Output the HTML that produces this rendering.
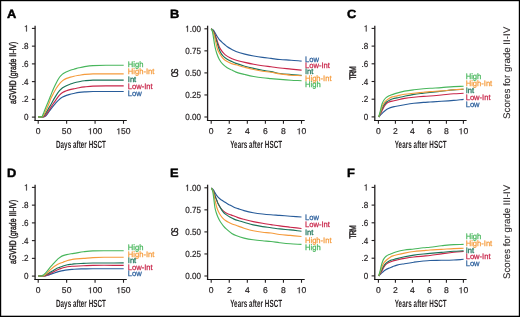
<!DOCTYPE html>
<html><head><meta charset="utf-8"><title>Figure</title>
<style>html,body{margin:0;padding:0;background:#fff;}svg{display:block;will-change:transform;}text{font-family:"Liberation Sans", sans-serif;text-rendering:geometricPrecision;}</style>
</head><body>
<svg width="520" height="317" viewBox="0 0 520 317" fill="#231f20">
<defs><filter id="soft" filterUnits="userSpaceOnUse" x="0" y="0" width="520" height="317" color-interpolation-filters="sRGB"><feGaussianBlur stdDeviation="0.35"/></filter></defs>
<rect width="520" height="317" fill="#fff"/>
<g filter="url(#soft)">

<text x="7" y="17.8" font-size="12" fill="#000" font-weight="bold" stroke="#000" stroke-width="0.45" transform="translate(7,0) scale(1.07,1) translate(-7,0)">A</text>
<path d="M35.1,25.7V121" fill="none" stroke="#231f20" stroke-width="1.3"/>
<path d="M34.45,120.45H126.8" fill="none" stroke="#141414" stroke-width="1.1"/>
<path d="M31.9,117.1H35.1" stroke="#231f20" stroke-width="1.1"/>
<text x="28.6" y="120.1" font-size="8.8" text-anchor="end" textLength="4.5" lengthAdjust="spacingAndGlyphs" stroke="#231f20" stroke-width="0.2">0</text>
<path d="M31.9,99.36H35.1" stroke="#231f20" stroke-width="1.1"/>
<text x="28.6" y="102.36" font-size="8.8" text-anchor="end" textLength="6.75" lengthAdjust="spacingAndGlyphs" stroke="#231f20" stroke-width="0.2">.2</text>
<path d="M31.9,81.62H35.1" stroke="#231f20" stroke-width="1.1"/>
<text x="28.6" y="84.62" font-size="8.8" text-anchor="end" textLength="6.75" lengthAdjust="spacingAndGlyphs" stroke="#231f20" stroke-width="0.2">.4</text>
<path d="M31.9,63.88H35.1" stroke="#231f20" stroke-width="1.1"/>
<text x="28.6" y="66.88" font-size="8.8" text-anchor="end" textLength="6.75" lengthAdjust="spacingAndGlyphs" stroke="#231f20" stroke-width="0.2">.6</text>
<path d="M31.9,46.14H35.1" stroke="#231f20" stroke-width="1.1"/>
<text x="28.6" y="49.14" font-size="8.8" text-anchor="end" textLength="6.75" lengthAdjust="spacingAndGlyphs" stroke="#231f20" stroke-width="0.2">.8</text>
<path d="M31.9,28.4H35.1" stroke="#231f20" stroke-width="1.1"/>
<text x="28.6" y="31.4" font-size="8.8" text-anchor="end" textLength="4.5" lengthAdjust="spacingAndGlyphs" stroke="#231f20" stroke-width="0.2"> </text>
<path d="M26.84,31.4 L26.84,25.35 L26.3,25.35 L26.08,25.72 L25.76,26.03 L25.31,26.25 L24.87,26.38 L24.87,27.04 L25.39,26.87 L25.8,26.65 L26.13,26.38 L26.13,31.4Z" stroke="#231f20" stroke-width="0.2"/>
<path d="M38.2,120.45V123.75" stroke="#231f20" stroke-width="1.1"/>
<text x="38.2" y="134.2" font-size="8.5" text-anchor="middle" textLength="4.77" lengthAdjust="spacingAndGlyphs" stroke="#231f20" stroke-width="0.2">0</text>
<path d="M66.64,120.45V123.75" stroke="#231f20" stroke-width="1.1"/>
<text x="66.64" y="134.2" font-size="8.5" text-anchor="middle" textLength="9.55" lengthAdjust="spacingAndGlyphs" stroke="#231f20" stroke-width="0.2">50</text>
<path d="M95.07,120.45V123.75" stroke="#231f20" stroke-width="1.1"/>
<text x="95.07" y="134.2" font-size="8.5" text-anchor="middle" textLength="14.32" lengthAdjust="spacingAndGlyphs" stroke="#231f20" stroke-width="0.2"> 00</text>
<path d="M90.82,134.2 L90.82,128.35 L90.24,128.35 L90.01,128.72 L89.67,129.01 L89.2,129.23 L88.72,129.35 L88.72,129.99 L89.28,129.82 L89.71,129.61 L90.06,129.35 L90.06,134.2Z" stroke="#231f20" stroke-width="0.2"/>
<path d="M123.5,120.45V123.75" stroke="#231f20" stroke-width="1.1"/>
<text x="123.5" y="134.2" font-size="8.5" text-anchor="middle" textLength="14.32" lengthAdjust="spacingAndGlyphs" stroke="#231f20" stroke-width="0.2"> 50</text>
<path d="M119.25,134.2 L119.25,128.35 L118.68,128.35 L118.45,128.72 L118.1,129.01 L117.63,129.23 L117.16,129.35 L117.16,129.99 L117.72,129.82 L118.15,129.61 L118.5,129.35 L118.5,134.2Z" stroke="#231f20" stroke-width="0.2"/>
<text transform="translate(80.95,147.5) scale(0.6,1)" font-size="10.5" text-anchor="middle" font-weight="bold" textLength="83.33" lengthAdjust="spacing">Days after HSCT</text>
<text transform="translate(15.6,72.9) rotate(-90) scale(0.72,1)" font-size="9.6" text-anchor="middle" textLength="86.53" lengthAdjust="spacing" stroke="#231f20" stroke-width="0.45">aGVHD (grade II-IV)</text>
<text x="170" y="17.8" font-size="12" fill="#000" font-weight="bold" stroke="#000" stroke-width="0.45" transform="translate(170,0) scale(1.07,1) translate(-170,0)">B</text>
<path d="M207.6,25.7V121" fill="none" stroke="#231f20" stroke-width="1.3"/>
<path d="M206.95,120.45H304.7" fill="none" stroke="#141414" stroke-width="1.1"/>
<path d="M204.4,117H207.6" stroke="#231f20" stroke-width="1.1"/>
<text x="201" y="120" font-size="8.8" text-anchor="end" textLength="15.76" lengthAdjust="spacingAndGlyphs" stroke="#231f20" stroke-width="0.2">0.00</text>
<path d="M204.4,94.95H207.6" stroke="#231f20" stroke-width="1.1"/>
<text x="201" y="97.95" font-size="8.8" text-anchor="end" textLength="15.76" lengthAdjust="spacingAndGlyphs" stroke="#231f20" stroke-width="0.2">0.25</text>
<path d="M204.4,72.9H207.6" stroke="#231f20" stroke-width="1.1"/>
<text x="201" y="75.9" font-size="8.8" text-anchor="end" textLength="15.76" lengthAdjust="spacingAndGlyphs" stroke="#231f20" stroke-width="0.2">0.50</text>
<path d="M204.4,50.85H207.6" stroke="#231f20" stroke-width="1.1"/>
<text x="201" y="53.85" font-size="8.8" text-anchor="end" textLength="15.76" lengthAdjust="spacingAndGlyphs" stroke="#231f20" stroke-width="0.2">0.75</text>
<path d="M204.4,28.8H207.6" stroke="#231f20" stroke-width="1.1"/>
<text x="201" y="31.8" font-size="8.8" text-anchor="end" textLength="15.76" lengthAdjust="spacingAndGlyphs" stroke="#231f20" stroke-width="0.2"> .00</text>
<path d="M187.99,31.8 L187.99,25.75 L187.45,25.75 L187.23,26.12 L186.9,26.43 L186.46,26.65 L186.01,26.78 L186.01,27.44 L186.54,27.27 L186.94,27.05 L187.28,26.78 L187.28,31.8Z" stroke="#231f20" stroke-width="0.2"/>
<path d="M211.2,120.45V123.75" stroke="#231f20" stroke-width="1.1"/>
<text x="211.2" y="134.2" font-size="8.5" text-anchor="middle" textLength="4.77" lengthAdjust="spacingAndGlyphs" stroke="#231f20" stroke-width="0.2">0</text>
<path d="M229.26,120.45V123.75" stroke="#231f20" stroke-width="1.1"/>
<text x="229.26" y="134.2" font-size="8.5" text-anchor="middle" textLength="4.77" lengthAdjust="spacingAndGlyphs" stroke="#231f20" stroke-width="0.2">2</text>
<path d="M247.32,120.45V123.75" stroke="#231f20" stroke-width="1.1"/>
<text x="247.32" y="134.2" font-size="8.5" text-anchor="middle" textLength="4.77" lengthAdjust="spacingAndGlyphs" stroke="#231f20" stroke-width="0.2">4</text>
<path d="M265.38,120.45V123.75" stroke="#231f20" stroke-width="1.1"/>
<text x="265.38" y="134.2" font-size="8.5" text-anchor="middle" textLength="4.77" lengthAdjust="spacingAndGlyphs" stroke="#231f20" stroke-width="0.2">6</text>
<path d="M283.44,120.45V123.75" stroke="#231f20" stroke-width="1.1"/>
<text x="283.44" y="134.2" font-size="8.5" text-anchor="middle" textLength="4.77" lengthAdjust="spacingAndGlyphs" stroke="#231f20" stroke-width="0.2">8</text>
<path d="M301.5,120.45V123.75" stroke="#231f20" stroke-width="1.1"/>
<text x="301.5" y="134.2" font-size="8.5" text-anchor="middle" textLength="9.55" lengthAdjust="spacingAndGlyphs" stroke="#231f20" stroke-width="0.2"> 0</text>
<path d="M299.64,134.2 L299.64,128.35 L299.06,128.35 L298.83,128.72 L298.49,129.01 L298.01,129.23 L297.54,129.35 L297.54,129.99 L298.1,129.82 L298.53,129.61 L298.88,129.35 L298.88,134.2Z" stroke="#231f20" stroke-width="0.2"/>
<text transform="translate(256.15,147.5) scale(0.6,1)" font-size="10.5" text-anchor="middle" font-weight="bold" textLength="86.67" lengthAdjust="spacing">Years after HSCT</text>
<text transform="translate(178.2,72.9) rotate(-90) scale(0.72,1)" font-size="9.6" text-anchor="middle" textLength="11.94" lengthAdjust="spacing" stroke="#231f20" stroke-width="0.45">OS</text>
<text x="347" y="17.8" font-size="12" fill="#000" font-weight="bold" stroke="#000" stroke-width="0.45" transform="translate(347,0) scale(1.07,1) translate(-347,0)">C</text>
<path d="M374.8,25.7V121" fill="none" stroke="#231f20" stroke-width="1.3"/>
<path d="M374.15,120.45H466.6" fill="none" stroke="#141414" stroke-width="1.1"/>
<path d="M371.6,116.9H374.8" stroke="#231f20" stroke-width="1.1"/>
<text x="368.3" y="119.9" font-size="8.8" text-anchor="end" textLength="4.5" lengthAdjust="spacingAndGlyphs" stroke="#231f20" stroke-width="0.2">0</text>
<path d="M371.6,99.2H374.8" stroke="#231f20" stroke-width="1.1"/>
<text x="368.3" y="102.2" font-size="8.8" text-anchor="end" textLength="6.75" lengthAdjust="spacingAndGlyphs" stroke="#231f20" stroke-width="0.2">.2</text>
<path d="M371.6,81.5H374.8" stroke="#231f20" stroke-width="1.1"/>
<text x="368.3" y="84.5" font-size="8.8" text-anchor="end" textLength="6.75" lengthAdjust="spacingAndGlyphs" stroke="#231f20" stroke-width="0.2">.4</text>
<path d="M371.6,63.8H374.8" stroke="#231f20" stroke-width="1.1"/>
<text x="368.3" y="66.8" font-size="8.8" text-anchor="end" textLength="6.75" lengthAdjust="spacingAndGlyphs" stroke="#231f20" stroke-width="0.2">.6</text>
<path d="M371.6,46.1H374.8" stroke="#231f20" stroke-width="1.1"/>
<text x="368.3" y="49.1" font-size="8.8" text-anchor="end" textLength="6.75" lengthAdjust="spacingAndGlyphs" stroke="#231f20" stroke-width="0.2">.8</text>
<path d="M371.6,28.4H374.8" stroke="#231f20" stroke-width="1.1"/>
<text x="368.3" y="31.4" font-size="8.8" text-anchor="end" textLength="4.5" lengthAdjust="spacingAndGlyphs" stroke="#231f20" stroke-width="0.2"> </text>
<path d="M366.54,31.4 L366.54,25.35 L366,25.35 L365.78,25.72 L365.46,26.03 L365.01,26.25 L364.57,26.38 L364.57,27.04 L365.09,26.87 L365.5,26.65 L365.83,26.38 L365.83,31.4Z" stroke="#231f20" stroke-width="0.2"/>
<path d="M378.4,120.45V123.75" stroke="#231f20" stroke-width="1.1"/>
<text x="378.4" y="134.2" font-size="8.5" text-anchor="middle" textLength="4.77" lengthAdjust="spacingAndGlyphs" stroke="#231f20" stroke-width="0.2">0</text>
<path d="M395.4,120.45V123.75" stroke="#231f20" stroke-width="1.1"/>
<text x="395.4" y="134.2" font-size="8.5" text-anchor="middle" textLength="4.77" lengthAdjust="spacingAndGlyphs" stroke="#231f20" stroke-width="0.2">2</text>
<path d="M412.4,120.45V123.75" stroke="#231f20" stroke-width="1.1"/>
<text x="412.4" y="134.2" font-size="8.5" text-anchor="middle" textLength="4.77" lengthAdjust="spacingAndGlyphs" stroke="#231f20" stroke-width="0.2">4</text>
<path d="M429.4,120.45V123.75" stroke="#231f20" stroke-width="1.1"/>
<text x="429.4" y="134.2" font-size="8.5" text-anchor="middle" textLength="4.77" lengthAdjust="spacingAndGlyphs" stroke="#231f20" stroke-width="0.2">6</text>
<path d="M446.4,120.45V123.75" stroke="#231f20" stroke-width="1.1"/>
<text x="446.4" y="134.2" font-size="8.5" text-anchor="middle" textLength="4.77" lengthAdjust="spacingAndGlyphs" stroke="#231f20" stroke-width="0.2">8</text>
<path d="M463.4,120.45V123.75" stroke="#231f20" stroke-width="1.1"/>
<text x="463.4" y="134.2" font-size="8.5" text-anchor="middle" textLength="9.55" lengthAdjust="spacingAndGlyphs" stroke="#231f20" stroke-width="0.2"> 0</text>
<path d="M461.54,134.2 L461.54,128.35 L460.96,128.35 L460.73,128.72 L460.39,129.01 L459.91,129.23 L459.44,129.35 L459.44,129.99 L460,129.82 L460.43,129.61 L460.78,129.35 L460.78,134.2Z" stroke="#231f20" stroke-width="0.2"/>
<text transform="translate(420.7,147.5) scale(0.6,1)" font-size="10.5" text-anchor="middle" font-weight="bold" textLength="86.67" lengthAdjust="spacing">Years after HSCT</text>
<text transform="translate(356,72.9) rotate(-90) scale(0.72,1)" font-size="9.6" text-anchor="middle" textLength="18.75" lengthAdjust="spacing" stroke="#231f20" stroke-width="0.45">TRM</text>
<text transform="translate(510.3,72.9) rotate(-90)" font-size="9.6" text-anchor="middle" textLength="92" lengthAdjust="spacingAndGlyphs" stroke="#231f20" stroke-width="0.08">Scores for grade II-IV</text>
<text x="7" y="176.8" font-size="12" fill="#000" font-weight="bold" stroke="#000" stroke-width="0.45" transform="translate(7,0) scale(1.07,1) translate(-7,0)">D</text>
<path d="M35.1,184.7V280" fill="none" stroke="#231f20" stroke-width="1.3"/>
<path d="M34.45,279.45H126.8" fill="none" stroke="#141414" stroke-width="1.1"/>
<path d="M31.9,276.1H35.1" stroke="#231f20" stroke-width="1.1"/>
<text x="28.6" y="279.1" font-size="8.8" text-anchor="end" textLength="4.5" lengthAdjust="spacingAndGlyphs" stroke="#231f20" stroke-width="0.2">0</text>
<path d="M31.9,258.36H35.1" stroke="#231f20" stroke-width="1.1"/>
<text x="28.6" y="261.36" font-size="8.8" text-anchor="end" textLength="6.75" lengthAdjust="spacingAndGlyphs" stroke="#231f20" stroke-width="0.2">.2</text>
<path d="M31.9,240.62H35.1" stroke="#231f20" stroke-width="1.1"/>
<text x="28.6" y="243.62" font-size="8.8" text-anchor="end" textLength="6.75" lengthAdjust="spacingAndGlyphs" stroke="#231f20" stroke-width="0.2">.4</text>
<path d="M31.9,222.88H35.1" stroke="#231f20" stroke-width="1.1"/>
<text x="28.6" y="225.88" font-size="8.8" text-anchor="end" textLength="6.75" lengthAdjust="spacingAndGlyphs" stroke="#231f20" stroke-width="0.2">.6</text>
<path d="M31.9,205.14H35.1" stroke="#231f20" stroke-width="1.1"/>
<text x="28.6" y="208.14" font-size="8.8" text-anchor="end" textLength="6.75" lengthAdjust="spacingAndGlyphs" stroke="#231f20" stroke-width="0.2">.8</text>
<path d="M31.9,187.4H35.1" stroke="#231f20" stroke-width="1.1"/>
<text x="28.6" y="190.4" font-size="8.8" text-anchor="end" textLength="4.5" lengthAdjust="spacingAndGlyphs" stroke="#231f20" stroke-width="0.2"> </text>
<path d="M26.84,190.4 L26.84,184.35 L26.3,184.35 L26.08,184.72 L25.76,185.03 L25.31,185.25 L24.87,185.38 L24.87,186.04 L25.39,185.87 L25.8,185.65 L26.13,185.38 L26.13,190.4Z" stroke="#231f20" stroke-width="0.2"/>
<path d="M38.2,279.45V282.75" stroke="#231f20" stroke-width="1.1"/>
<text x="38.2" y="293.2" font-size="8.5" text-anchor="middle" textLength="4.77" lengthAdjust="spacingAndGlyphs" stroke="#231f20" stroke-width="0.2">0</text>
<path d="M66.64,279.45V282.75" stroke="#231f20" stroke-width="1.1"/>
<text x="66.64" y="293.2" font-size="8.5" text-anchor="middle" textLength="9.55" lengthAdjust="spacingAndGlyphs" stroke="#231f20" stroke-width="0.2">50</text>
<path d="M95.07,279.45V282.75" stroke="#231f20" stroke-width="1.1"/>
<text x="95.07" y="293.2" font-size="8.5" text-anchor="middle" textLength="14.32" lengthAdjust="spacingAndGlyphs" stroke="#231f20" stroke-width="0.2"> 00</text>
<path d="M90.82,293.2 L90.82,287.35 L90.24,287.35 L90.01,287.72 L89.67,288.01 L89.2,288.23 L88.72,288.35 L88.72,288.99 L89.28,288.82 L89.71,288.61 L90.06,288.35 L90.06,293.2Z" stroke="#231f20" stroke-width="0.2"/>
<path d="M123.5,279.45V282.75" stroke="#231f20" stroke-width="1.1"/>
<text x="123.5" y="293.2" font-size="8.5" text-anchor="middle" textLength="14.32" lengthAdjust="spacingAndGlyphs" stroke="#231f20" stroke-width="0.2"> 50</text>
<path d="M119.25,293.2 L119.25,287.35 L118.68,287.35 L118.45,287.72 L118.1,288.01 L117.63,288.23 L117.16,288.35 L117.16,288.99 L117.72,288.82 L118.15,288.61 L118.5,288.35 L118.5,293.2Z" stroke="#231f20" stroke-width="0.2"/>
<text transform="translate(80.95,306.5) scale(0.6,1)" font-size="10.5" text-anchor="middle" font-weight="bold" textLength="83.33" lengthAdjust="spacing">Days after HSCT</text>
<text transform="translate(15.6,231.9) rotate(-90) scale(0.72,1)" font-size="9.6" text-anchor="middle" textLength="89.31" lengthAdjust="spacing" stroke="#231f20" stroke-width="0.45">aGVHD (grade III-IV)</text>
<text x="170" y="176.8" font-size="12" fill="#000" font-weight="bold" stroke="#000" stroke-width="0.45" transform="translate(170,0) scale(1.07,1) translate(-170,0)">E</text>
<path d="M207.6,184.7V280" fill="none" stroke="#231f20" stroke-width="1.3"/>
<path d="M206.95,279.45H304.7" fill="none" stroke="#141414" stroke-width="1.1"/>
<path d="M204.4,276H207.6" stroke="#231f20" stroke-width="1.1"/>
<text x="201" y="279" font-size="8.8" text-anchor="end" textLength="15.76" lengthAdjust="spacingAndGlyphs" stroke="#231f20" stroke-width="0.2">0.00</text>
<path d="M204.4,253.95H207.6" stroke="#231f20" stroke-width="1.1"/>
<text x="201" y="256.95" font-size="8.8" text-anchor="end" textLength="15.76" lengthAdjust="spacingAndGlyphs" stroke="#231f20" stroke-width="0.2">0.25</text>
<path d="M204.4,231.9H207.6" stroke="#231f20" stroke-width="1.1"/>
<text x="201" y="234.9" font-size="8.8" text-anchor="end" textLength="15.76" lengthAdjust="spacingAndGlyphs" stroke="#231f20" stroke-width="0.2">0.50</text>
<path d="M204.4,209.85H207.6" stroke="#231f20" stroke-width="1.1"/>
<text x="201" y="212.85" font-size="8.8" text-anchor="end" textLength="15.76" lengthAdjust="spacingAndGlyphs" stroke="#231f20" stroke-width="0.2">0.75</text>
<path d="M204.4,187.8H207.6" stroke="#231f20" stroke-width="1.1"/>
<text x="201" y="190.8" font-size="8.8" text-anchor="end" textLength="15.76" lengthAdjust="spacingAndGlyphs" stroke="#231f20" stroke-width="0.2"> .00</text>
<path d="M187.99,190.8 L187.99,184.75 L187.45,184.75 L187.23,185.12 L186.9,185.43 L186.46,185.65 L186.01,185.78 L186.01,186.44 L186.54,186.27 L186.94,186.05 L187.28,185.78 L187.28,190.8Z" stroke="#231f20" stroke-width="0.2"/>
<path d="M211.2,279.45V282.75" stroke="#231f20" stroke-width="1.1"/>
<text x="211.2" y="293.2" font-size="8.5" text-anchor="middle" textLength="4.77" lengthAdjust="spacingAndGlyphs" stroke="#231f20" stroke-width="0.2">0</text>
<path d="M229.26,279.45V282.75" stroke="#231f20" stroke-width="1.1"/>
<text x="229.26" y="293.2" font-size="8.5" text-anchor="middle" textLength="4.77" lengthAdjust="spacingAndGlyphs" stroke="#231f20" stroke-width="0.2">2</text>
<path d="M247.32,279.45V282.75" stroke="#231f20" stroke-width="1.1"/>
<text x="247.32" y="293.2" font-size="8.5" text-anchor="middle" textLength="4.77" lengthAdjust="spacingAndGlyphs" stroke="#231f20" stroke-width="0.2">4</text>
<path d="M265.38,279.45V282.75" stroke="#231f20" stroke-width="1.1"/>
<text x="265.38" y="293.2" font-size="8.5" text-anchor="middle" textLength="4.77" lengthAdjust="spacingAndGlyphs" stroke="#231f20" stroke-width="0.2">6</text>
<path d="M283.44,279.45V282.75" stroke="#231f20" stroke-width="1.1"/>
<text x="283.44" y="293.2" font-size="8.5" text-anchor="middle" textLength="4.77" lengthAdjust="spacingAndGlyphs" stroke="#231f20" stroke-width="0.2">8</text>
<path d="M301.5,279.45V282.75" stroke="#231f20" stroke-width="1.1"/>
<text x="301.5" y="293.2" font-size="8.5" text-anchor="middle" textLength="9.55" lengthAdjust="spacingAndGlyphs" stroke="#231f20" stroke-width="0.2"> 0</text>
<path d="M299.64,293.2 L299.64,287.35 L299.06,287.35 L298.83,287.72 L298.49,288.01 L298.01,288.23 L297.54,288.35 L297.54,288.99 L298.1,288.82 L298.53,288.61 L298.88,288.35 L298.88,293.2Z" stroke="#231f20" stroke-width="0.2"/>
<text transform="translate(256.15,306.5) scale(0.6,1)" font-size="10.5" text-anchor="middle" font-weight="bold" textLength="86.67" lengthAdjust="spacing">Years after HSCT</text>
<text transform="translate(178.2,231.9) rotate(-90) scale(0.72,1)" font-size="9.6" text-anchor="middle" textLength="11.94" lengthAdjust="spacing" stroke="#231f20" stroke-width="0.45">OS</text>
<text x="347" y="176.8" font-size="12" fill="#000" font-weight="bold" stroke="#000" stroke-width="0.45" transform="translate(347,0) scale(1.07,1) translate(-347,0)">F</text>
<path d="M374.8,184.7V280" fill="none" stroke="#231f20" stroke-width="1.3"/>
<path d="M374.15,279.45H466.6" fill="none" stroke="#141414" stroke-width="1.1"/>
<path d="M371.6,275.9H374.8" stroke="#231f20" stroke-width="1.1"/>
<text x="368.3" y="278.9" font-size="8.8" text-anchor="end" textLength="4.5" lengthAdjust="spacingAndGlyphs" stroke="#231f20" stroke-width="0.2">0</text>
<path d="M371.6,258.2H374.8" stroke="#231f20" stroke-width="1.1"/>
<text x="368.3" y="261.2" font-size="8.8" text-anchor="end" textLength="6.75" lengthAdjust="spacingAndGlyphs" stroke="#231f20" stroke-width="0.2">.2</text>
<path d="M371.6,240.5H374.8" stroke="#231f20" stroke-width="1.1"/>
<text x="368.3" y="243.5" font-size="8.8" text-anchor="end" textLength="6.75" lengthAdjust="spacingAndGlyphs" stroke="#231f20" stroke-width="0.2">.4</text>
<path d="M371.6,222.8H374.8" stroke="#231f20" stroke-width="1.1"/>
<text x="368.3" y="225.8" font-size="8.8" text-anchor="end" textLength="6.75" lengthAdjust="spacingAndGlyphs" stroke="#231f20" stroke-width="0.2">.6</text>
<path d="M371.6,205.1H374.8" stroke="#231f20" stroke-width="1.1"/>
<text x="368.3" y="208.1" font-size="8.8" text-anchor="end" textLength="6.75" lengthAdjust="spacingAndGlyphs" stroke="#231f20" stroke-width="0.2">.8</text>
<path d="M371.6,187.4H374.8" stroke="#231f20" stroke-width="1.1"/>
<text x="368.3" y="190.4" font-size="8.8" text-anchor="end" textLength="4.5" lengthAdjust="spacingAndGlyphs" stroke="#231f20" stroke-width="0.2"> </text>
<path d="M366.54,190.4 L366.54,184.35 L366,184.35 L365.78,184.72 L365.46,185.03 L365.01,185.25 L364.57,185.38 L364.57,186.04 L365.09,185.87 L365.5,185.65 L365.83,185.38 L365.83,190.4Z" stroke="#231f20" stroke-width="0.2"/>
<path d="M378.4,279.45V282.75" stroke="#231f20" stroke-width="1.1"/>
<text x="378.4" y="293.2" font-size="8.5" text-anchor="middle" textLength="4.77" lengthAdjust="spacingAndGlyphs" stroke="#231f20" stroke-width="0.2">0</text>
<path d="M395.4,279.45V282.75" stroke="#231f20" stroke-width="1.1"/>
<text x="395.4" y="293.2" font-size="8.5" text-anchor="middle" textLength="4.77" lengthAdjust="spacingAndGlyphs" stroke="#231f20" stroke-width="0.2">2</text>
<path d="M412.4,279.45V282.75" stroke="#231f20" stroke-width="1.1"/>
<text x="412.4" y="293.2" font-size="8.5" text-anchor="middle" textLength="4.77" lengthAdjust="spacingAndGlyphs" stroke="#231f20" stroke-width="0.2">4</text>
<path d="M429.4,279.45V282.75" stroke="#231f20" stroke-width="1.1"/>
<text x="429.4" y="293.2" font-size="8.5" text-anchor="middle" textLength="4.77" lengthAdjust="spacingAndGlyphs" stroke="#231f20" stroke-width="0.2">6</text>
<path d="M446.4,279.45V282.75" stroke="#231f20" stroke-width="1.1"/>
<text x="446.4" y="293.2" font-size="8.5" text-anchor="middle" textLength="4.77" lengthAdjust="spacingAndGlyphs" stroke="#231f20" stroke-width="0.2">8</text>
<path d="M463.4,279.45V282.75" stroke="#231f20" stroke-width="1.1"/>
<text x="463.4" y="293.2" font-size="8.5" text-anchor="middle" textLength="9.55" lengthAdjust="spacingAndGlyphs" stroke="#231f20" stroke-width="0.2"> 0</text>
<path d="M461.54,293.2 L461.54,287.35 L460.96,287.35 L460.73,287.72 L460.39,288.01 L459.91,288.23 L459.44,288.35 L459.44,288.99 L460,288.82 L460.43,288.61 L460.78,288.35 L460.78,293.2Z" stroke="#231f20" stroke-width="0.2"/>
<text transform="translate(420.7,306.5) scale(0.6,1)" font-size="10.5" text-anchor="middle" font-weight="bold" textLength="86.67" lengthAdjust="spacing">Years after HSCT</text>
<text transform="translate(356,231.9) rotate(-90) scale(0.72,1)" font-size="9.6" text-anchor="middle" textLength="18.75" lengthAdjust="spacing" stroke="#231f20" stroke-width="0.45">TRM</text>
<text transform="translate(510.3,231.9) rotate(-90)" font-size="9.6" text-anchor="middle" textLength="94" lengthAdjust="spacingAndGlyphs" stroke="#231f20" stroke-width="0.08">Scores for grade III-IV</text>
<path d="M38.2,116.9 C39.97,116.9 41.73,116.9 43.5,116.9 C44.23,116.9 44.97,116.51 45.7,116.1 C46.73,115.53 47.77,113.39 48.8,112 C49.87,110.56 50.93,108.98 52,107.6 C53.03,106.26 54.07,104.98 55.1,103.8 C56.17,102.59 57.23,101.36 58.3,100.4 C59.73,99.11 61.17,97.92 62.6,97.1 C63.67,96.49 64.73,96 65.8,95.6 C66.87,95.2 67.93,94.89 69,94.6 C70.5,94.19 72,93.83 73.5,93.5 C75.37,93.09 77.23,92.63 79.1,92.4 C80.93,92.17 82.77,92.02 84.6,91.9 C87.4,91.72 90.2,91.5 93,91.5 C97.33,91.5 101.67,91.5 106,91.5 C111.9,91.5 117.8,91.5 123.7,91.5" fill="none" stroke="#285c9a" stroke-width="1.15" stroke-linejoin="round"/>
<path d="M38.2,116.9 C39.87,116.9 41.53,116.9 43.2,116.9 C43.8,116.9 44.4,116.29 45,115.8 C46.07,114.93 47.13,112.94 48.2,111.4 C49.03,110.19 49.87,108.87 50.7,107.6 C51.53,106.33 52.37,105.03 53.2,103.8 C54.13,102.42 55.07,101.09 56,99.8 C57.17,98.18 58.33,96.33 59.5,95.1 C60.53,94.01 61.57,93 62.6,92.4 C63.67,91.78 64.73,91.41 65.8,91 C67.2,90.47 68.6,89.95 70,89.6 C71.17,89.31 72.33,89.14 73.5,88.9 C75.37,88.51 77.23,88.02 79.1,87.7 C80.93,87.38 82.77,87.11 84.6,86.9 C87.4,86.57 90.2,86.18 93,86.1 C97.33,85.98 101.67,85.9 106,85.9 C111.9,85.9 117.8,85.9 123.7,85.9" fill="none" stroke="#c8264a" stroke-width="1.15" stroke-linejoin="round"/>
<path d="M38.2,116.9 C39.73,116.9 41.27,116.9 42.8,116.9 C43.33,116.9 43.87,115.78 44.4,115.1 C45.23,114.05 46.07,112.73 46.9,111.4 C47.77,110.02 48.63,108.35 49.5,106.9 C50.13,105.84 50.77,104.91 51.4,103.8 C52.17,102.45 52.93,100.76 53.7,99.4 C54.57,97.86 55.43,96.41 56.3,95.1 C57.37,93.49 58.43,91.91 59.5,90.7 C60.53,89.53 61.57,88.44 62.6,87.7 C63.67,86.94 64.73,86.41 65.8,85.9 C67.2,85.24 68.6,84.72 70,84.2 C71.17,83.77 72.33,83.33 73.5,83 C75.37,82.48 77.23,82.06 79.1,81.7 C80.93,81.35 82.77,81.01 84.6,80.8 C87.4,80.48 90.2,80.1 93,80.1 C97.33,80.1 101.67,80.1 106,80.1 C111.9,80.1 117.8,80.1 123.7,80.1" fill="none" stroke="#1b7358" stroke-width="1.15" stroke-linejoin="round"/>
<path d="M38.2,116.9 C39.53,116.9 40.87,116.9 42.2,116.9 C42.53,116.9 42.87,116.4 43.2,116 C43.67,115.44 44.13,114.34 44.6,113.4 C45.07,112.46 45.53,111.33 46,110.3 C46.5,109.2 47,108.15 47.5,107 C48.17,105.47 48.83,103.92 49.5,102.2 C49.93,101.08 50.37,99.61 50.8,98.6 C51.6,96.73 52.4,95.42 53.2,93.9 C54.23,91.94 55.27,89.83 56.3,88.2 C57.37,86.52 58.43,85.06 59.5,83.8 C60,83.21 60.5,82.67 61,82.2 C61.83,81.41 62.67,80.66 63.5,80.1 C64.53,79.41 65.57,78.84 66.6,78.4 C67.87,77.86 69.13,77.47 70.4,77.1 C71.6,76.75 72.8,76.45 74,76.2 C75.7,75.84 77.4,75.59 79.1,75.3 C80.93,74.99 82.77,74.59 84.6,74.4 C87.4,74.11 90.2,73.8 93,73.8 C97.33,73.8 101.67,73.8 106,73.8 C111.9,73.8 117.8,73.8 123.7,73.8" fill="none" stroke="#f59b3c" stroke-width="1.15" stroke-linejoin="round"/>
<path d="M38.2,116.9 C39.4,116.9 40.6,116.9 41.8,116.9 C42.03,116.9 42.27,116.24 42.5,115.8 C42.93,114.99 43.37,113.69 43.8,112.6 C44.2,111.59 44.6,110.51 45,109.5 C45.43,108.41 45.87,107.35 46.3,106.3 C46.73,105.25 47.17,104.24 47.6,103.2 C48.07,102.08 48.53,100.96 49,99.8 C49.5,98.56 50,97.26 50.5,96 C51.17,94.32 51.83,92.55 52.5,91 C53.33,89.06 54.17,87.36 55,85.6 C55.5,84.55 56,83.5 56.5,82.5 C56.93,81.64 57.37,80.76 57.8,80 C58.43,78.89 59.07,77.8 59.7,77 C60.53,75.95 61.37,75.09 62.2,74.4 C63.03,73.71 63.87,73.17 64.7,72.7 C65.77,72.1 66.83,71.65 67.9,71.2 C68.93,70.76 69.97,70.33 71,70 C72,69.68 73,69.47 74,69.2 C75.7,68.74 77.4,68.21 79.1,67.8 C80.93,67.35 82.77,66.89 84.6,66.6 C87.4,66.16 90.2,65.74 93,65.6 C97.33,65.38 101.67,65.2 106,65.2 C111.9,65.2 117.8,65.2 123.7,65.2" fill="none" stroke="#48b65c" stroke-width="1.15" stroke-linejoin="round"/>
<text x="127.8" y="66.7" font-size="7.9" fill="#48b65c" textLength="15.6" lengthAdjust="spacingAndGlyphs" stroke="#48b65c" stroke-width="0.25">High</text>
<text x="127.8" y="74.1" font-size="7.9" fill="#f59b3c" textLength="26.55" lengthAdjust="spacingAndGlyphs" stroke="#f59b3c" stroke-width="0.25">High-Int</text>
<text x="127.8" y="81.5" font-size="7.9" fill="#1b7358" textLength="8.43" lengthAdjust="spacingAndGlyphs" stroke="#1b7358" stroke-width="0.25">Int</text>
<text x="127.8" y="88.9" font-size="7.9" fill="#c8264a" textLength="24.87" lengthAdjust="spacingAndGlyphs" stroke="#c8264a" stroke-width="0.25">Low-Int</text>
<text x="127.8" y="96.3" font-size="7.9" fill="#285c9a" textLength="13.91" lengthAdjust="spacingAndGlyphs" stroke="#285c9a" stroke-width="0.25">Low</text>
<path d="M38.2,276 C40.3,276 42.4,276 44.5,276 C45.53,276 46.57,275.59 47.6,275.3 C48.63,275.01 49.67,274.56 50.7,274.2 C51.77,273.83 52.83,273.45 53.9,273.1 C54.93,272.76 55.97,272.41 57,272.1 C57.83,271.85 58.67,271.61 59.5,271.4 C60.7,271.1 61.9,270.82 63.1,270.6 C64.57,270.33 66.03,270.09 67.5,269.9 C68.97,269.71 70.43,269.55 71.9,269.4 C72.6,269.33 73.3,269.24 74,269.2 C77.17,269.03 80.33,268.98 83.5,268.9 C86.63,268.82 89.77,268.7 92.9,268.7 C96.6,268.7 100.3,268.7 104,268.7 C110.57,268.7 117.13,268.77 123.7,268.8" fill="none" stroke="#285c9a" stroke-width="1.15" stroke-linejoin="round"/>
<path d="M38.2,276 C40.13,276 42.07,276 44,276 C44.97,276 45.93,275.38 46.9,275 C47.97,274.58 49.03,274.02 50.1,273.5 C51.13,272.99 52.17,272.41 53.2,271.9 C54.2,271.41 55.2,270.96 56.2,270.5 C57.3,269.99 58.4,269.44 59.5,269 C60.7,268.52 61.9,268.02 63.1,267.7 C64.57,267.31 66.03,267.01 67.5,266.8 C68.97,266.59 70.43,266.39 71.9,266.3 C72.6,266.26 73.3,266.23 74,266.2 C77.17,266.06 80.33,265.93 83.5,265.8 C86.63,265.67 89.77,265.45 92.9,265.4 C96.6,265.34 100.3,265.3 104,265.3 C110.57,265.3 117.13,265.3 123.7,265.3" fill="none" stroke="#c8264a" stroke-width="1.15" stroke-linejoin="round"/>
<path d="M38.2,276 C39.97,276 41.73,276 43.5,276 C44.43,276 45.37,275.09 46.3,274.6 C47.37,274.04 48.43,273.43 49.5,272.8 C50.53,272.19 51.57,271.54 52.6,270.9 C53.67,270.24 54.73,269.43 55.8,268.9 C57.03,268.29 58.27,267.89 59.5,267.4 C60.7,266.92 61.9,266.39 63.1,266 C64.57,265.53 66.03,265.07 67.5,264.8 C68.97,264.53 70.43,264.41 71.9,264.2 C72.6,264.1 73.3,263.96 74,263.9 C77.17,263.63 80.33,263.55 83.5,263.4 C86.63,263.25 89.77,263 92.9,263 C96.6,263 100.3,263 104,263 C110.57,263 117.13,262.93 123.7,262.9" fill="none" stroke="#1b7358" stroke-width="1.15" stroke-linejoin="round"/>
<path d="M38.2,276 C39.8,276 41.4,276 43,276 C43.9,276 44.8,274.9 45.7,274.2 C46.53,273.55 47.37,272.7 48.2,271.9 C49.03,271.1 49.87,270.18 50.7,269.4 C51.53,268.62 52.37,267.85 53.2,267.2 C54.07,266.53 54.93,265.91 55.8,265.4 C56.83,264.79 57.87,264.26 58.9,263.8 C60.3,263.18 61.7,262.74 63.1,262.2 C64.57,261.64 66.03,260.92 67.5,260.5 C68.97,260.08 70.43,259.8 71.9,259.5 C72.6,259.36 73.3,259.18 74,259.1 C77.17,258.73 80.33,258.65 83.5,258.4 C86.63,258.15 89.77,257.73 92.9,257.6 C96.6,257.45 100.3,257.33 104,257.3 C110.57,257.24 117.13,257.23 123.7,257.2" fill="none" stroke="#f59b3c" stroke-width="1.15" stroke-linejoin="round"/>
<path d="M38.2,276 C39.3,276 40.4,276 41.5,276 C42.27,276 43.03,275.17 43.8,274.6 C44.43,274.13 45.07,273.46 45.7,272.8 C46.33,272.14 46.97,271.38 47.6,270.6 C48.23,269.82 48.87,268.88 49.5,268.1 C50.13,267.32 50.77,266.62 51.4,265.9 C52,265.22 52.6,264.56 53.2,263.9 C53.83,263.2 54.47,262.48 55.1,261.8 C55.73,261.12 56.37,260.41 57,259.8 C57.63,259.19 58.27,258.62 58.9,258.1 C59.43,257.67 59.97,257.23 60.5,256.9 C61.37,256.37 62.23,255.92 63.1,255.6 C64.27,255.17 65.43,254.86 66.6,254.6 C68.07,254.27 69.53,254.02 71,253.8 C72,253.65 73,253.55 74,253.4 C77.17,252.94 80.33,252.19 83.5,251.8 C86.63,251.42 89.77,251 92.9,250.9 C96.6,250.79 100.3,250.7 104,250.7 C110.57,250.7 117.13,250.77 123.7,250.8" fill="none" stroke="#48b65c" stroke-width="1.15" stroke-linejoin="round"/>
<text x="127.8" y="250.1" font-size="7.9" fill="#48b65c" textLength="15.6" lengthAdjust="spacingAndGlyphs" stroke="#48b65c" stroke-width="0.25">High</text>
<text x="127.8" y="256.65" font-size="7.9" fill="#f59b3c" textLength="26.55" lengthAdjust="spacingAndGlyphs" stroke="#f59b3c" stroke-width="0.25">High-Int</text>
<text x="127.8" y="263.2" font-size="7.9" fill="#1b7358" textLength="8.43" lengthAdjust="spacingAndGlyphs" stroke="#1b7358" stroke-width="0.25">Int</text>
<text x="127.8" y="269.75" font-size="7.9" fill="#c8264a" textLength="24.87" lengthAdjust="spacingAndGlyphs" stroke="#c8264a" stroke-width="0.25">Low-Int</text>
<text x="127.8" y="276.3" font-size="7.9" fill="#285c9a" textLength="13.91" lengthAdjust="spacingAndGlyphs" stroke="#285c9a" stroke-width="0.25">Low</text>
<path d="M211.2,28.7 C211.93,29.2 212.67,29.49 213.4,30.2 C214.03,30.82 214.67,32.25 215.3,33.3 C215.93,34.35 216.57,35.5 217.2,36.5 C217.83,37.5 218.47,38.54 219.1,39.3 C219.93,40.3 220.77,41.01 221.6,41.8 C222.6,42.75 223.6,43.63 224.6,44.5 C225.5,45.29 226.4,46.16 227.3,46.8 C228.83,47.88 230.37,48.68 231.9,49.5 C233.27,50.23 234.63,50.98 236,51.5 C238.93,52.61 241.87,53.37 244.8,54.1 C247.77,54.84 250.73,55.46 253.7,56 C256.63,56.53 259.57,57 262.5,57.4 C265.33,57.78 268.17,58.06 271,58.4 C274,58.76 277,59.25 280,59.5 C283.7,59.81 287.4,59.93 291.1,60.2 C294.6,60.45 298.1,60.8 301.6,61.1" fill="none" stroke="#285c9a" stroke-width="1.15" stroke-linejoin="round"/>
<path d="M211.2,28.7 C212.13,29.8 213.07,30.45 214,32 C214.43,32.72 214.87,34.04 215.3,35.2 C215.73,36.36 216.17,37.68 216.6,39 C217,40.22 217.4,41.6 217.8,42.8 C218.2,44 218.6,45.3 219,46.2 C219.83,48.08 220.67,49.54 221.5,50.7 C222.77,52.46 224.03,53.89 225.3,54.9 C226.87,56.15 228.43,57.04 230,57.8 C231.6,58.57 233.2,59.15 234.8,59.7 C235.87,60.07 236.93,60.4 238,60.7 C240.27,61.34 242.53,61.88 244.8,62.4 C247.77,63.09 250.73,63.76 253.7,64.3 C256.63,64.83 259.57,65.28 262.5,65.7 C265.33,66.1 268.17,66.43 271,66.8 C274,67.19 277,67.66 280,68 C283.7,68.42 287.4,68.72 291.1,69.1 C294.6,69.46 298.1,69.83 301.6,70.2" fill="none" stroke="#c8264a" stroke-width="1.15" stroke-linejoin="round"/>
<path d="M211.2,28.7 C212.03,29.8 212.87,30.42 213.7,32 C214.13,32.82 214.57,34.44 215,35.8 C215.43,37.16 215.87,38.78 216.3,40.2 C216.7,41.51 217.1,42.66 217.5,44 C217.8,45.01 218.1,46.31 218.4,47.2 C219.13,49.39 219.87,51.3 220.6,52.6 C221.53,54.25 222.47,55.5 223.4,56.4 C224.67,57.63 225.93,58.43 227.2,59.2 C228.77,60.15 230.33,60.86 231.9,61.6 C233.27,62.24 234.63,62.89 236,63.4 C238.93,64.5 241.87,65.38 244.8,66.2 C247.77,67.03 250.73,67.72 253.7,68.4 C256.63,69.08 259.57,69.78 262.5,70.3 C265.33,70.81 268.17,71.1 271,71.6 C274,72.13 277,73.09 280,73.5 C283.7,74.01 287.4,74.28 291.1,74.6 C294.6,74.9 298.1,75.13 301.6,75.4" fill="none" stroke="#1b7358" stroke-width="1.15" stroke-linejoin="round"/>
<path d="M211.2,28.7 C211.93,30.03 212.67,30.92 213.4,32.7 C213.83,33.75 214.27,35.35 214.7,37.1 C215,38.31 215.3,40.13 215.6,41.5 C216.03,43.47 216.47,45.31 216.9,47 C217.1,47.78 217.3,48.65 217.5,49.2 C218.2,51.14 218.9,52.29 219.6,53.5 C220.57,55.18 221.53,56.73 222.5,57.8 C223.77,59.2 225.03,60.3 226.3,61.1 C227.87,62.09 229.43,62.84 231,63.4 C232.67,64 234.33,64.33 236,64.8 C238.93,65.63 241.87,66.52 244.8,67.3 C247.77,68.08 250.73,68.86 253.7,69.5 C256.63,70.14 259.57,70.75 262.5,71.2 C265.33,71.64 268.17,71.88 271,72.3 C274,72.75 277,73.47 280,73.9 C283.7,74.43 287.4,74.95 291.1,75.2 C294.6,75.44 298.1,75.53 301.6,75.7" fill="none" stroke="#f59b3c" stroke-width="1.15" stroke-linejoin="round"/>
<path d="M211.2,28.7 C211.53,29.4 211.87,29.81 212.2,30.8 C212.5,31.69 212.8,33.54 213.1,35.2 C213.4,36.86 213.7,39.02 214,40.9 C214.3,42.78 214.6,45.07 214.9,46.5 C215.53,49.52 216.17,51.66 216.8,53.5 C217.6,55.83 218.4,57.76 219.2,59.2 C220.3,61.18 221.4,62.75 222.5,63.9 C224.07,65.54 225.63,66.72 227.2,67.7 C228.77,68.68 230.33,69.32 231.9,70.1 C233.27,70.78 234.63,71.6 236,72.1 C238.93,73.16 241.87,73.78 244.8,74.5 C247.77,75.23 250.73,75.97 253.7,76.5 C256.63,77.02 259.57,77.46 262.5,77.8 C265.33,78.13 268.17,78.34 271,78.6 C274,78.87 277,79.16 280,79.4 C283.7,79.7 287.4,79.99 291.1,80.2 C294.6,80.4 298.1,80.53 301.6,80.7" fill="none" stroke="#48b65c" stroke-width="1.15" stroke-linejoin="round"/>
<text x="305" y="61.5" font-size="7.9" fill="#285c9a" textLength="13.91" lengthAdjust="spacingAndGlyphs" stroke="#285c9a" stroke-width="0.25">Low</text>
<text x="305" y="67.9" font-size="7.9" fill="#c8264a" textLength="24.87" lengthAdjust="spacingAndGlyphs" stroke="#c8264a" stroke-width="0.25">Low-Int</text>
<text x="305" y="74.3" font-size="7.9" fill="#1b7358" textLength="8.43" lengthAdjust="spacingAndGlyphs" stroke="#1b7358" stroke-width="0.25">Int</text>
<text x="305" y="80.7" font-size="7.9" fill="#f59b3c" textLength="26.55" lengthAdjust="spacingAndGlyphs" stroke="#f59b3c" stroke-width="0.25">High-Int</text>
<text x="305" y="87.1" font-size="7.9" fill="#48b65c" textLength="15.6" lengthAdjust="spacingAndGlyphs" stroke="#48b65c" stroke-width="0.25">High</text>
<path d="M211.4,188 C212.1,188.73 212.8,189.27 213.5,190.2 C213.97,190.82 214.43,191.82 214.9,192.6 C215.37,193.38 215.83,194.23 216.3,194.9 C216.97,195.85 217.63,196.72 218.3,197.4 C219,198.11 219.7,198.67 220.4,199.2 C220.93,199.6 221.47,199.95 222,200.3 C223.07,201 224.13,201.64 225.2,202.3 C226.63,203.18 228.07,204.11 229.5,204.9 C231,205.73 232.5,206.58 234,207.2 C235.33,207.75 236.67,208.14 238,208.6 C240,209.28 242,210.05 244,210.6 C247.07,211.44 250.13,212.17 253.2,212.7 C256.3,213.24 259.4,213.65 262.5,214 C265.33,214.32 268.17,214.57 271,214.8 C273.87,215.03 276.73,215.19 279.6,215.4 C283.13,215.66 286.67,215.94 290.2,216.2 C293.97,216.48 297.73,216.73 301.5,217" fill="none" stroke="#285c9a" stroke-width="1.15" stroke-linejoin="round"/>
<path d="M211.4,188 C212.33,189.63 213.27,190.6 214.2,192.9 C214.53,193.72 214.87,195.42 215.2,196.4 C215.67,197.77 216.13,198.74 216.6,199.9 C217.17,201.31 217.73,202.97 218.3,204.1 C218.73,204.96 219.17,205.59 219.6,206.3 C220.07,207.06 220.53,207.9 221,208.5 C221.77,209.48 222.53,210.27 223.3,210.9 C224.57,211.94 225.83,212.78 227.1,213.4 C228.4,214.03 229.7,214.4 231,214.9 C233.33,215.8 235.67,216.84 238,217.6 C240,218.25 242,218.77 244,219.3 C247.07,220.12 250.13,220.95 253.2,221.6 C256.3,222.25 259.4,222.78 262.5,223.3 C265.33,223.77 268.17,224.17 271,224.6 C273.87,225.04 276.73,225.51 279.6,225.9 C283.13,226.38 286.67,226.78 290.2,227.2 C293.97,227.65 297.73,228.07 301.5,228.5" fill="none" stroke="#c8264a" stroke-width="1.15" stroke-linejoin="round"/>
<path d="M211.4,188 C212.33,189.63 213.27,190.6 214.2,192.9 C214.53,193.72 214.87,195.42 215.2,196.4 C215.67,197.77 216.13,198.74 216.6,199.9 C217.17,201.31 217.73,202.93 218.3,204.1 C218.97,205.47 219.63,206.49 220.3,207.6 C221.03,208.82 221.77,210.17 222.5,211.1 C223.57,212.45 224.63,213.55 225.7,214.4 C227.23,215.62 228.77,216.46 230.3,217.3 C231.53,217.97 232.77,218.6 234,219.1 C235.33,219.64 236.67,220.08 238,220.5 C240,221.13 242,221.62 244,222.2 C247.07,223.08 250.13,224.21 253.2,224.9 C256.3,225.6 259.4,226.13 262.5,226.6 C265.33,227.03 268.17,227.32 271,227.7 C273.87,228.08 276.73,228.58 279.6,228.9 C283.13,229.3 286.67,229.53 290.2,229.9 C293.97,230.29 297.73,230.77 301.5,231.2" fill="none" stroke="#1b7358" stroke-width="1.15" stroke-linejoin="round"/>
<path d="M211.4,188 C212.2,189.87 213,190.68 213.8,193.6 C214.03,194.45 214.27,196.59 214.5,197.8 C214.87,199.7 215.23,201.17 215.6,202.7 C216.03,204.51 216.47,206.47 216.9,207.8 C217.43,209.44 217.97,210.71 218.5,211.8 C219.17,213.16 219.83,214.22 220.5,215.2 C221.17,216.18 221.83,217.08 222.5,217.8 C223.5,218.88 224.5,219.78 225.5,220.5 C226.5,221.22 227.5,221.78 228.5,222.3 C229.5,222.83 230.5,223.29 231.5,223.7 C233,224.31 234.5,224.76 236,225.3 C238.67,226.26 241.33,227.35 244,228.2 C247.07,229.18 250.13,230.2 253.2,230.8 C256.3,231.41 259.4,231.84 262.5,232.2 C265.33,232.53 268.17,232.65 271,233 C273.87,233.35 276.73,234.17 279.6,234.5 C283.13,234.91 286.67,235.08 290.2,235.4 C293.97,235.74 297.73,236.13 301.5,236.5" fill="none" stroke="#f59b3c" stroke-width="1.15" stroke-linejoin="round"/>
<path d="M211.4,188 C211.87,189.2 212.33,189.76 212.8,191.6 C213.03,192.52 213.27,194.68 213.5,196.4 C213.73,198.12 213.97,200.15 214.2,202 C214.43,203.85 214.67,206.25 214.9,207.5 C215.33,209.82 215.77,211.13 216.2,212.5 C216.83,214.5 217.47,216.1 218.1,217.5 C218.9,219.26 219.7,220.74 220.5,222 C221.43,223.48 222.37,224.68 223.3,225.8 C224.37,227.07 225.43,228.22 226.5,229.2 C228.27,230.82 230.03,232.33 231.8,233.4 C233.2,234.25 234.6,234.94 236,235.5 C238.67,236.57 241.33,237.47 244,238.1 C247.07,238.83 250.13,239.38 253.2,239.8 C256.3,240.22 259.4,240.51 262.5,240.8 C265.33,241.06 268.17,241.21 271,241.5 C273.87,241.8 276.73,242.36 279.6,242.7 C283.13,243.12 286.67,243.55 290.2,243.8 C293.97,244.07 297.73,244.2 301.5,244.4" fill="none" stroke="#48b65c" stroke-width="1.15" stroke-linejoin="round"/>
<text x="305" y="219.8" font-size="7.9" fill="#285c9a" textLength="13.91" lengthAdjust="spacingAndGlyphs" stroke="#285c9a" stroke-width="0.25">Low</text>
<text x="305" y="227.4" font-size="7.9" fill="#c8264a" textLength="24.87" lengthAdjust="spacingAndGlyphs" stroke="#c8264a" stroke-width="0.25">Low-Int</text>
<text x="305" y="235" font-size="7.9" fill="#1b7358" textLength="8.43" lengthAdjust="spacingAndGlyphs" stroke="#1b7358" stroke-width="0.25">Int</text>
<text x="305" y="242.6" font-size="7.9" fill="#f59b3c" textLength="26.55" lengthAdjust="spacingAndGlyphs" stroke="#f59b3c" stroke-width="0.25">High-Int</text>
<text x="305" y="250.2" font-size="7.9" fill="#48b65c" textLength="15.6" lengthAdjust="spacingAndGlyphs" stroke="#48b65c" stroke-width="0.25">High</text>
<path d="M378.7,117 C379.4,116.23 380.1,115.43 380.8,114.7 C381.57,113.9 382.33,113.11 383.1,112.4 C383.83,111.72 384.57,111.03 385.3,110.5 C386.33,109.75 387.37,109.1 388.4,108.6 C389.67,107.99 390.93,107.45 392.2,107.1 C393.13,106.84 394.07,106.69 395,106.5 C398.17,105.86 401.33,105.23 404.5,104.7 C407.63,104.18 410.77,103.66 413.9,103.3 C417.07,102.93 420.23,102.63 423.4,102.4 C425.6,102.24 427.8,102.13 430,102 C433.8,101.77 437.6,101.55 441.4,101.3 C445.5,101.03 449.6,100.75 453.7,100.4 C457,100.12 460.3,99.73 463.6,99.4" fill="none" stroke="#285c9a" stroke-width="1.15" stroke-linejoin="round"/>
<path d="M378.7,117 C379.77,114.97 380.83,112.99 381.9,110.9 C382.53,109.66 383.17,108.17 383.8,107.1 C384.43,106.03 385.07,104.94 385.7,104.3 C386.6,103.4 387.5,102.71 388.4,102.3 C389.67,101.73 390.93,101.42 392.2,101.1 C393.13,100.86 394.07,100.7 395,100.5 C398.17,99.81 401.33,98.91 404.5,98.4 C407.63,97.89 410.77,97.52 413.9,97.2 C417.07,96.88 420.23,96.62 423.4,96.4 C425.6,96.25 427.8,96.16 430,96 C433.8,95.73 437.6,95.35 441.4,95 C445.5,94.62 449.6,94.07 453.7,93.8 C457,93.58 460.3,93.47 463.6,93.3" fill="none" stroke="#c8264a" stroke-width="1.15" stroke-linejoin="round"/>
<path d="M378.7,117 C379.63,114.7 380.57,112.32 381.5,110.1 C382.03,108.83 382.57,107.38 383.1,106.4 C383.6,105.48 384.1,104.73 384.6,104.1 C385.33,103.18 386.07,102.38 386.8,101.8 C387.83,100.99 388.87,100.37 389.9,99.9 C390.9,99.44 391.9,99.08 392.9,98.8 C394.27,98.42 395.63,98.2 397,97.9 C399.5,97.34 402,96.72 404.5,96.2 C407.63,95.55 410.77,94.88 413.9,94.4 C417.07,93.92 420.23,93.59 423.4,93.2 C425.6,92.93 427.8,92.65 430,92.4 C433.8,91.97 437.6,91.6 441.4,91.2 C445.5,90.77 449.6,90.21 453.7,89.9 C457,89.65 460.3,89.5 463.6,89.3" fill="none" stroke="#1b7358" stroke-width="1.15" stroke-linejoin="round"/>
<path d="M378.7,117 C379.4,114.97 380.1,112.97 380.8,110.9 C381.3,109.42 381.8,107.62 382.3,106.4 C382.8,105.18 383.3,104.05 383.8,103.3 C384.57,102.16 385.33,101.41 386.1,100.7 C387.1,99.78 388.1,98.99 389.1,98.4 C390.13,97.79 391.17,97.2 392.2,96.9 C393.13,96.62 394.07,96.5 395,96.3 C398.17,95.63 401.33,94.78 404.5,94.3 C407.63,93.83 410.77,93.55 413.9,93.2 C417.07,92.85 420.23,92.51 423.4,92.2 C425.6,91.99 427.8,91.76 430,91.6 C433.8,91.32 437.6,91.18 441.4,90.9 C445.5,90.6 449.6,90.15 453.7,89.8 C457,89.52 460.3,89.27 463.6,89" fill="none" stroke="#f59b3c" stroke-width="1.15" stroke-linejoin="round"/>
<path d="M378.7,117 C379.13,115.47 379.57,114.11 380,112.4 C380.4,110.83 380.8,108.65 381.2,107.1 C381.57,105.68 381.93,104.24 382.3,103.3 C382.8,102.02 383.3,101.05 383.8,100.3 C384.57,99.14 385.33,98.22 386.1,97.6 C387.1,96.79 388.1,96.29 389.1,95.8 C389.73,95.49 390.37,95.24 391,95 C392.33,94.48 393.67,94.01 395,93.6 C398.17,92.63 401.33,91.67 404.5,91.1 C407.63,90.53 410.77,90.17 413.9,89.8 C417.07,89.42 420.23,89.08 423.4,88.8 C425.6,88.61 427.8,88.45 430,88.3 C433.8,88.04 437.6,87.87 441.4,87.6 C445.5,87.31 449.6,86.78 453.7,86.6 C457,86.46 460.3,86.4 463.6,86.3" fill="none" stroke="#48b65c" stroke-width="1.15" stroke-linejoin="round"/>
<text x="465.7" y="78.5" font-size="7.9" fill="#48b65c" textLength="15.6" lengthAdjust="spacingAndGlyphs" stroke="#48b65c" stroke-width="0.25">High</text>
<text x="465.7" y="85.5" font-size="7.9" fill="#f59b3c" textLength="26.55" lengthAdjust="spacingAndGlyphs" stroke="#f59b3c" stroke-width="0.25">High-Int</text>
<text x="465.7" y="92.5" font-size="7.9" fill="#1b7358" textLength="8.43" lengthAdjust="spacingAndGlyphs" stroke="#1b7358" stroke-width="0.25">Int</text>
<text x="465.7" y="99.5" font-size="7.9" fill="#c8264a" textLength="24.87" lengthAdjust="spacingAndGlyphs" stroke="#c8264a" stroke-width="0.25">Low-Int</text>
<text x="465.7" y="106.5" font-size="7.9" fill="#285c9a" textLength="13.91" lengthAdjust="spacingAndGlyphs" stroke="#285c9a" stroke-width="0.25">Low</text>
<path d="M378.7,276 C379.4,275.27 380.1,274.47 380.8,273.8 C381.57,273.07 382.33,272.46 383.1,271.8 C383.83,271.16 384.57,270.36 385.3,269.9 C386.33,269.25 387.37,268.85 388.4,268.4 C389.67,267.85 390.93,267.39 392.2,266.9 C393.8,266.28 395.4,265.51 397,265.1 C399.5,264.46 402,264.13 404.5,263.7 C407.63,263.16 410.77,262.64 413.9,262.2 C417.07,261.75 420.23,261.3 423.4,261 C425.6,260.79 427.8,260.57 430,260.5 C433.8,260.39 437.6,260.38 441.4,260.3 C445.5,260.22 449.6,260.15 453.7,260 C457,259.88 460.3,259.53 463.6,259.3" fill="none" stroke="#285c9a" stroke-width="1.15" stroke-linejoin="round"/>
<path d="M378.7,276 C379.77,274.33 380.83,272.89 381.9,271 C382.53,269.88 383.17,268.23 383.8,267.2 C384.43,266.17 385.07,265.2 385.7,264.6 C386.6,263.75 387.5,263.16 388.4,262.7 C389.67,262.05 390.93,261.59 392.2,261.2 C393.8,260.71 395.4,260.37 397,260 C399.5,259.42 402,258.84 404.5,258.4 C407.63,257.85 410.77,257.36 413.9,257 C417.07,256.63 420.23,256.39 423.4,256.1 C425.6,255.9 427.8,255.74 430,255.5 C433.8,255.09 437.6,254.41 441.4,253.9 C445.5,253.35 449.6,252.71 453.7,252.3 C457,251.97 460.3,251.77 463.6,251.5" fill="none" stroke="#c8264a" stroke-width="1.15" stroke-linejoin="round"/>
<path d="M378.7,276 C379.63,274.1 380.57,272.18 381.5,270.3 C382.13,269.02 382.77,267.55 383.4,266.5 C384.03,265.45 384.67,264.45 385.3,263.8 C386.07,263.02 386.83,262.49 387.6,262 C388.6,261.36 389.6,260.78 390.6,260.4 C391.63,260.01 392.67,259.79 393.7,259.5 C394.8,259.19 395.9,258.88 397,258.6 C399.5,257.96 402,257.32 404.5,256.8 C407.63,256.15 410.77,255.54 413.9,255.1 C417.07,254.65 420.23,254.32 423.4,254 C425.6,253.78 427.8,253.6 430,253.4 C433.8,253.06 437.6,252.74 441.4,252.4 C445.5,252.04 449.6,251.56 453.7,251.3 C457,251.09 460.3,250.97 463.6,250.8" fill="none" stroke="#1b7358" stroke-width="1.15" stroke-linejoin="round"/>
<path d="M378.7,276 C379.53,273.7 380.37,271.39 381.2,269.1 C381.7,267.73 382.2,266.03 382.7,265 C383.33,263.69 383.97,262.69 384.6,261.9 C385.33,260.99 386.07,260.33 386.8,259.7 C387.83,258.81 388.87,258.02 389.9,257.4 C390.9,256.8 391.9,256.25 392.9,255.9 C394.27,255.42 395.63,255.14 397,254.8 C399.5,254.18 402,253.59 404.5,253.1 C407.63,252.49 410.77,251.88 413.9,251.5 C417.07,251.11 420.23,250.89 423.4,250.6 C425.6,250.4 427.8,250.15 430,250 C433.8,249.74 437.6,249.62 441.4,249.4 C445.5,249.16 449.6,248.8 453.7,248.6 C457,248.44 460.3,248.33 463.6,248.2" fill="none" stroke="#f59b3c" stroke-width="1.15" stroke-linejoin="round"/>
<path d="M378.7,276 C379.13,274.47 379.57,273.11 380,271.4 C380.4,269.83 380.8,267.65 381.2,266.1 C381.57,264.68 381.93,263.31 382.3,262.3 C382.8,260.92 383.3,259.67 383.8,258.9 C384.57,257.72 385.33,256.89 386.1,256.3 C387.1,255.53 388.1,255.06 389.1,254.6 C389.6,254.37 390.1,254.2 390.6,254 C392.07,253.42 393.53,252.75 395,252.3 C398.17,251.33 401.33,250.47 404.5,250 C407.63,249.54 410.77,249.36 413.9,249 C417.07,248.63 420.23,248.13 423.4,247.8 C425.6,247.57 427.8,247.43 430,247.2 C433.8,246.81 437.6,246.21 441.4,245.8 C445.5,245.35 449.6,244.73 453.7,244.6 C457,244.49 460.3,244.47 463.6,244.4" fill="none" stroke="#48b65c" stroke-width="1.15" stroke-linejoin="round"/>
<text x="465.7" y="239.4" font-size="7.9" fill="#48b65c" textLength="15.6" lengthAdjust="spacingAndGlyphs" stroke="#48b65c" stroke-width="0.25">High</text>
<text x="465.7" y="246" font-size="7.9" fill="#f59b3c" textLength="26.55" lengthAdjust="spacingAndGlyphs" stroke="#f59b3c" stroke-width="0.25">High-Int</text>
<text x="465.7" y="252.6" font-size="7.9" fill="#1b7358" textLength="8.43" lengthAdjust="spacingAndGlyphs" stroke="#1b7358" stroke-width="0.25">Int</text>
<text x="465.7" y="259.2" font-size="7.9" fill="#c8264a" textLength="24.87" lengthAdjust="spacingAndGlyphs" stroke="#c8264a" stroke-width="0.25">Low-Int</text>
<text x="465.7" y="265.8" font-size="7.9" fill="#285c9a" textLength="13.91" lengthAdjust="spacingAndGlyphs" stroke="#285c9a" stroke-width="0.25">Low</text>
</g>
<rect x="0" y="0" width="520" height="1.2" fill="#000"/>
<rect x="0" y="0" width="1.2" height="317" fill="#000"/>
<rect x="518.8" y="0" width="1.2" height="317" fill="#000"/>
<rect x="0" y="315.7" width="520" height="1.3" fill="#000"/>
</svg>
</body></html>
